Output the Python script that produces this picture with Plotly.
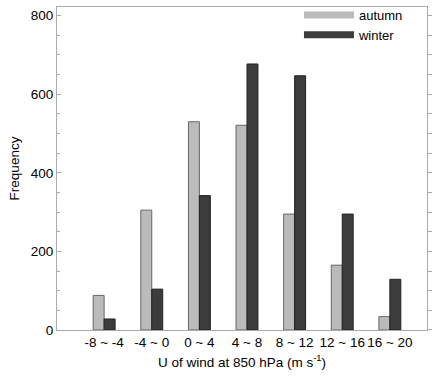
import plotly.graph_objects as go

categories = ["-8 ~ -4", "-4 ~ 0", "0 ~ 4", "4 ~ 8", "8 ~ 12", "12 ~ 16", "16 ~ 20"]
autumn = [88, 305, 530, 521, 295, 165, 34]
winter = [28, 104, 342, 677, 647, 295, 129]

autumn_color = "#bbbbbb"
winter_color = "#3c3c3c"
frame = "#aaaaaa"
font_family = "Liberation Sans, Arial, sans-serif"

fig = go.Figure()
fig.add_trace(go.Bar(x=categories, y=autumn, name="autumn", showlegend=False,
                     marker=dict(color=autumn_color, line=dict(color="#666666", width=1))))
fig.add_trace(go.Bar(x=categories, y=winter, name="winter", showlegend=False,
                     marker=dict(color=winter_color, line=dict(color="#222222", width=1))))
# legend entries (wide swatches)
fig.add_trace(go.Scatter(x=[None], y=[None], mode="lines", name="autumn",
                         line=dict(color=autumn_color, width=7)))
fig.add_trace(go.Scatter(x=[None], y=[None], mode="lines", name="winter",
                         line=dict(color=winter_color, width=7)))
# right mirrored axis with outward ticks
fig.add_trace(go.Scatter(x=[None], y=[None], yaxis="y2", showlegend=False, hoverinfo="skip"))

ydom = [0, 0.9788]

fig.update_layout(
    width=438, height=376,
    margin=dict(l=57, r=11, t=0, b=46),
    paper_bgcolor="white", plot_bgcolor="white",
    font=dict(family=font_family, size=13.5, color="#000000"),
    barmode="group", bargap=0.54, bargroupgap=0,
    legend=dict(x=0.654, y=1.0, xanchor="left", yanchor="top",
                bgcolor="rgba(0,0,0,0)", font=dict(size=13),
                itemwidth=50, tracegroupgap=0),
    xaxis=dict(type="category", range=[-0.99, 6.78], automargin=False,
               showline=True, linecolor=frame, linewidth=1, mirror=True,
               ticks="", showgrid=False, tickfont=dict(size=13.5),
               title=dict(text="U of wind at 850 hPa (m s<sup>-1</sup>)", standoff=8,
                          font=dict(size=13.5))),
    yaxis=dict(range=[0, 822], domain=ydom, dtick=200, tick0=0, automargin=False,
               showline=True, linecolor=frame, linewidth=1,
               ticks="inside", ticklen=4, tickcolor=frame, showgrid=False, zeroline=False,
               tickfont=dict(size=13.5),
               minor=dict(dtick=50, ticks="inside", ticklen=3, tickcolor=frame),
               title=dict(text="Frequency", standoff=8, font=dict(size=13.5))),
    yaxis2=dict(range=[0, 822], domain=ydom, overlaying="y", side="right", dtick=50,
                automargin=False, showticklabels=False, ticks="outside", ticklen=4,
                tickcolor=frame, showline=True, linecolor=frame, linewidth=1,
                showgrid=False, zeroline=False),
)

fig.write_html("out.html", config={"displayModeBar": False},
               post_script="document.body.style.margin='0';")
